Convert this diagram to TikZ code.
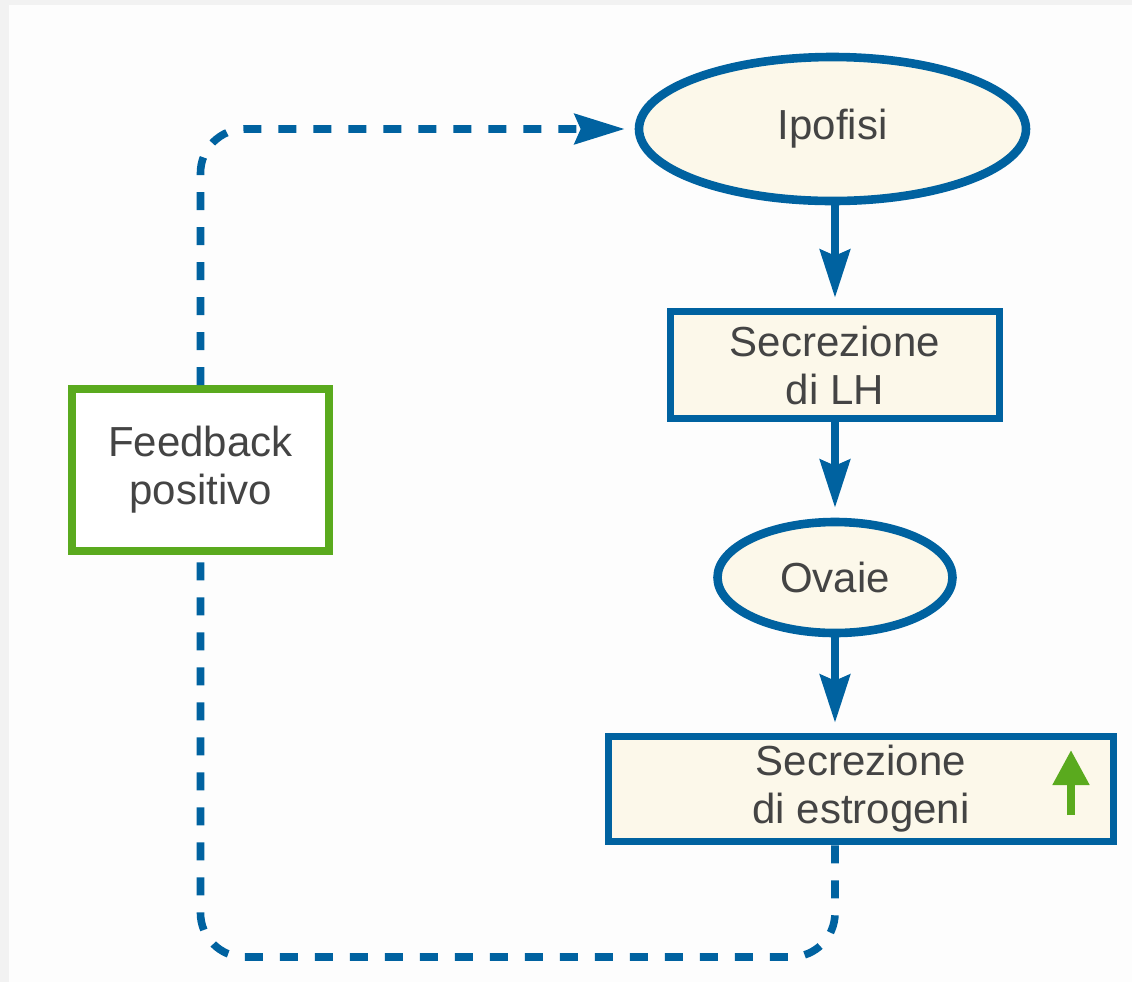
\documentclass[tikz,border=0pt]{standalone}
\usepackage{fontspec}
\setmainfont{Liberation Sans}
\usetikzlibrary{shapes.geometric,arrows.meta,calc}
\definecolor{bblue}{HTML}{0062A0}
\definecolor{ggreen}{HTML}{5AAA1E}
\definecolor{cream}{HTML}{FCF8EA}
\definecolor{txt}{HTML}{444444}
\definecolor{bggray}{HTML}{F2F2F2}
\definecolor{bgwhite}{HTML}{FDFDFD}
\tikzset{
  lbl/.style={font=\fontsize{21pt}{24pt}\selectfont, text=txt, align=center, inner sep=0pt},
  ell/.style={lbl, ellipse, draw=bblue, fill=cream, line width=4.3pt},
  bbox/.style={lbl, rectangle, draw=bblue, fill=cream, line width=3.8pt},
  gbox/.style={lbl, rectangle, draw=ggreen, fill=white, line width=4pt},
  arr/.style={draw=bblue, line width=3.8pt, -{Stealth[length=24pt,width=15pt,inset=3pt]}, shorten >=5pt},
  dsh/.style={draw=bblue, line width=3.8pt, dash pattern=on 9pt off 8.5pt, rounded corners=22pt},
  garr/.style={draw=ggreen, line width=4pt, -{Triangle[length=17.5pt,width=17.5pt]}}
}
\begin{document}
\begin{tikzpicture}[x=0.5pt,y=-0.5pt]
\fill[bggray] (0,0) rectangle (1132,982);
\fill[bgwhite] (9,5) rectangle (1132,982);
\useasboundingbox (0,0) rectangle (1132,982);

\node[ell, minimum width=193.5pt, minimum height=72pt] (ipo) at (832.5,129) {Ipofisi};
\node[bbox, minimum width=164.5pt, minimum height=53.5pt] (lh) at (835,365) {Secrezione\\di LH};
\node[ell, minimum width=117.5pt, minimum height=55.5pt] (ov) at (835,577.5) {Ovaie};
\node[bbox, minimum width=252.5pt, minimum height=52.5pt] (es) at (861,789) {Secrezione\\di estrogeni};
\node[gbox, minimum width=128.5pt, minimum height=81pt] (fb) at (200.5,470) {Feedback\\positivo};

\draw[arr] (ipo.south -| lh.north) -- (lh.north);
\draw[arr] (lh.south) -- (ov.north);
\draw[arr] (ov.south) -- (ov.south |- es.north);

\coordinate (bot) at (0,957);
\draw[dsh, -{Stealth[length=25pt,width=15pt,inset=3pt]}, shorten >=5pt] (fb.north) |- (ipo.west);
\draw[dsh] (es.south -| ov.south) -- (ov.south |- bot) -- (fb.south |- bot) -- (fb.south);

\coordinate (ga) at (1071,815);
\coordinate (gb) at (1071,750);
\draw[garr] (ga) -- (gb);
\end{tikzpicture}
\end{document}
